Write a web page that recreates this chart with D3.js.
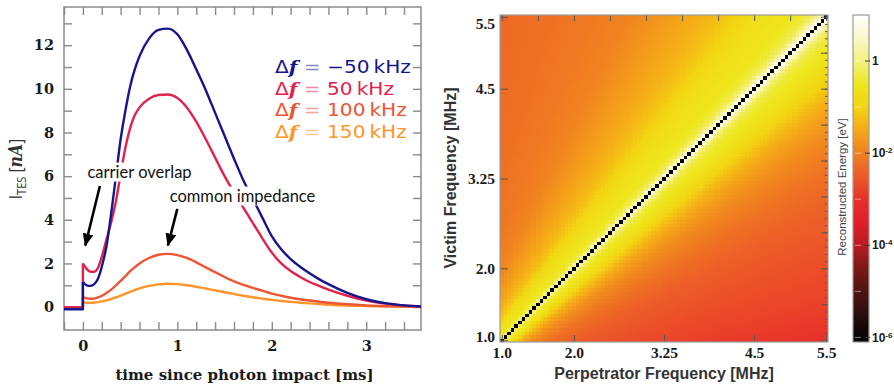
<!DOCTYPE html>
<html>
<head>
<meta charset="utf-8">
<title>TES pulses and crosstalk map</title>
<script src="https://cdn.jsdelivr.net/npm/d3@7/dist/d3.min.js"></script>
<style>
  body { margin: 0; background: #fff; }
  svg { display: block; }
</style>
</head>
<body>
<svg id="chart" width="894" height="386"></svg>
<script>
// ---- left panel: TES current pulses (nA) vs time (ms)
const timeMs = [0, 0.04, 0.08, 0.12, 0.16, 0.2, 0.25, 0.3, 0.35, 0.4, 0.45, 0.5, 0.55, 0.6,
  0.7, 0.8, 0.9, 1.0, 1.1, 1.2, 1.3, 1.4, 1.5, 1.6, 1.7, 1.8, 1.9, 2.0, 2.1, 2.2, 2.3, 2.4,
  2.5, 2.6, 2.8, 3.0, 3.2, 3.4, 3.58];
const pulseMinus50 = [1.15, 1.0, 0.97, 1.05, 1.3, 1.85, 2.8, 4.3, 6.0, 7.7, 9.0, 10.1, 10.9, 11.5,
  12.3, 12.7, 12.76, 12.5, 11.8, 10.9, 9.95, 8.9, 7.85, 6.8, 5.8, 4.95, 4.1, 3.25, 2.65, 2.2, 1.85, 1.55,
  1.28, 1.05, 0.65, 0.36, 0.18, 0.08, 0.03];
const pulse50 = [2.0, 1.75, 1.62, 1.62, 1.8, 2.3, 3.1, 3.9, 4.85, 6.1, 7.3, 8.2, 8.8, 9.15,
  9.55, 9.72, 9.74, 9.58, 9.15, 8.5, 7.7, 6.85, 6.0, 5.25, 4.55, 3.85, 3.15, 2.5, 2.0, 1.65, 1.38, 1.15,
  0.97, 0.8, 0.52, 0.3, 0.16, 0.07, 0.03];
const pulse100 = [0.46, 0.4, 0.38, 0.39, 0.44, 0.52, 0.65, 0.8, 1.0, 1.2, 1.42, 1.65, 1.83, 2.0,
  2.25, 2.4, 2.44, 2.38, 2.25, 2.05, 1.82, 1.6, 1.38, 1.18, 1.02, 0.88, 0.75, 0.62, 0.52, 0.43, 0.36, 0.3,
  0.25, 0.2, 0.13, 0.08, 0.05, 0.03, 0.02];
const pulse150 = [0.23, 0.2, 0.2, 0.21, 0.23, 0.26, 0.31, 0.37, 0.44, 0.52, 0.61, 0.7, 0.78, 0.86,
  0.97, 1.04, 1.07, 1.05, 1.0, 0.93, 0.85, 0.77, 0.68, 0.6, 0.52, 0.45, 0.39, 0.33, 0.28, 0.24, 0.2, 0.17,
  0.14, 0.11, 0.07, 0.05, 0.03, 0.02, 0.01];
const baselineLevels = [-0.1, 0, 0, 0];          // level before the photon arrives
const detuningLabels = ["\u221250", "50", "100", "150"];
const lineColors = ["#15158c", "#e0234c", "#ee5532", "#ff9529"];
const pulseTicksY = d3.range(0, 14);
const pulseTicksX = d3.range(-1, 18).map(i => i * 0.2);

// ---- right panel: reconstructed crosstalk energy, log10(eV)
const freqMHz = d3.range(0, 91).map(i => +(1 + i * 0.05).toFixed(2));
const freqTickValues = [1.0, 2.0, 3.25, 4.5, 5.5];
const freqTickText = ["1.0", "2.0", "3.25", "4.5", "5.5"];
// energy falls with the frequency ratio min/max, read along rows and columns
const ratioStops = [1.0, 0.99, 0.98, 0.97, 0.96, 0.94, 0.92, 0.9, 0.85, 0.8, 0.75, 0.7, 0.6, 0.5, 0.4, 0.3, 0.18];
const upperLogE = [1.0, 0.8, 0.3, 0.0, -0.2, -0.38, -0.48, -0.55, -0.65, -0.85, -1.15, -1.35, -1.65, -1.95, -2.1, -2.2, -2.3];
const lowerLogE = [1.0, 0.8, 0.3, 0.0, -0.2, -0.38, -0.48, -0.55, -0.9, -1.3, -1.6, -1.85, -2.2, -2.45, -2.6, -2.75, -3.0];
const diagonalLogE = -6.1;
const cbarLogStops = [-6.1, -5.5, -5.0, -4.5, -4.0, -3.5, -3.0, -2.5, -2.0, -1.5, -1.0, -0.5, 0.0, 0.5, 1.0];
const cbarColors = ["#000000", "#2a0e0e", "#4e1410", "#7e1818", "#b81c22", "#e01e28", "#e8302a",
  "#ec5a28", "#f08020", "#f5a818", "#f3d412", "#eee61c", "#f4f080", "#faf8c8", "#ffffff"];
const cbarLabelExp = [0, -2, -4, -6];

const svg = d3.select("#chart");
const tickGray = "#8a8a8a";
const isInt = d => Math.abs(d - Math.round(d)) < 1e-6;

// ================= left panel =================
const P = { left: 64, right: 421, top: 7, bottom: 330 };
const x = d3.scaleLinear().domain([-0.2, 3.58]).range([P.left, P.right]);
const y = d3.scaleLinear().domain([-1.05, 13.75]).range([P.bottom, P.top]);

const defs = svg.append("defs");
defs.append("clipPath").attr("id", "clipPulse").append("rect")
  .attr("x", P.left).attr("y", P.top)
  .attr("width", P.right - P.left).attr("height", P.bottom - P.top);

function grayTicks(g) {
  g.select(".domain").remove();
  g.selectAll(".tick line").attr("stroke", tickGray).attr("stroke-width", 1.4);
  g.selectAll(".tick text").attr("fill", "#1a1a1a");
}

svg.append("g").attr("transform", `translate(${P.left},0)`)
  .call(d3.axisLeft(y).tickValues(pulseTicksY).tickSize(-8).tickPadding(10)
    .tickFormat(d => d % 2 === 0 ? d : ""))
  .call(grayTicks)
  .attr("font-family", "DejaVu Serif").attr("font-weight", "bold").attr("font-size", 14.5);

svg.append("g").attr("transform", `translate(${P.right},0)`)
  .call(d3.axisRight(y).tickValues(pulseTicksY).tickSize(-8).tickFormat(""))
  .call(grayTicks);

svg.append("g").attr("transform", `translate(0,${P.bottom})`)
  .call(d3.axisBottom(x).tickValues(pulseTicksX).tickSize(-8).tickPadding(11)
    .tickFormat(d => isInt(d) ? Math.round(d) : ""))
  .call(grayTicks)
  .attr("font-family", "DejaVu Serif").attr("font-weight", "bold").attr("font-size", 14.5);

svg.append("g").attr("transform", `translate(0,${P.top})`)
  .call(d3.axisTop(x).tickValues(pulseTicksX).tickSize(-8).tickFormat(""))
  .call(grayTicks);

svg.append("rect")
  .attr("x", P.left).attr("y", P.top)
  .attr("width", P.right - P.left).attr("height", P.bottom - P.top)
  .attr("fill", "none").attr("stroke", tickGray).attr("stroke-width", 1.5);

const pulses = [pulseMinus50, pulse50, pulse100, pulse150];
const curve = d3.line().x(d => x(d[0])).y(d => y(d[1])).curve(d3.curveMonotoneX);
const step = d3.line().x(d => x(d[0])).y(d => y(d[1]));
const curves = svg.append("g").attr("clip-path", "url(#clipPulse)")
  .attr("fill", "none").attr("stroke-width", 2.4).attr("stroke-linejoin", "round");

// draw the smallest pulse first so the -50 kHz trace ends up on top
d3.range(pulses.length - 1, -1, -1).forEach(i => {
  const vals = pulses[i];
  curves.append("path")
    .attr("stroke", lineColors[i])
    .attr("d", step([[-0.2, baselineLevels[i]], [0, baselineLevels[i]], [0, vals[0]]]));
  curves.append("path")
    .attr("stroke", lineColors[i])
    .attr("d", curve(timeMs.map((t, k) => [t, vals[k]])));
});

// legend (the source figure is a little stretched sideways)
const legend = svg.append("g").attr("font-family", "DejaVu Sans").attr("font-size", 17.5);
detuningLabels.forEach((lab, i) => {
  const t = legend.append("text")
    .attr("transform", `translate(275,${73 + i * 21.7}) scale(1.15,1)`)
    .attr("fill", lineColors[i]);
  t.append("tspan").text("\u0394");
  t.append("tspan").attr("font-family", "DejaVu Serif").attr("font-style", "italic")
    .attr("font-weight", "bold").text("f");
  t.append("tspan").attr("fill-opacity", 0.55).text(" = ");
  t.append("tspan").text(lab + "\u2009kHz");
});

// annotations with arrows
defs.append("marker")
  .attr("id", "arrowHead").attr("markerUnits", "userSpaceOnUse")
  .attr("viewBox", "0 0 12 10").attr("refX", 11).attr("refY", 5)
  .attr("markerWidth", 13).attr("markerHeight", 11).attr("orient", "auto")
  .append("path").attr("d", "M0,0 L12,5 L0,10 Z").attr("fill", "#000");

const notes = [
  { text: "carrier overlap", tx: 0.6, ty: 6.2, from: [0.18, 5.55], to: [0.025, 2.82] },
  { text: "common impedance", tx: 1.69, ty: 5.1, from: [1.0, 4.5], to: [0.9, 2.82] }
];
notes.forEach(n => {
  const label = svg.append("text")
    .attr("x", x(n.tx)).attr("y", y(n.ty)).attr("dy", "0.35em")
    .attr("text-anchor", "middle")
    .attr("font-family", "Lato").attr("font-size", 16.5).attr("fill", "#111")
    .text(n.text);
  const bb = label.node().getBBox();
  svg.insert("rect", () => label.node())
    .attr("x", bb.x - 1).attr("y", bb.y + 1).attr("width", bb.width + 2).attr("height", bb.height - 1)
    .attr("fill", "#fff");
  svg.append("line")
    .attr("x1", x(n.from[0])).attr("y1", y(n.from[1]))
    .attr("x2", x(n.to[0])).attr("y2", y(n.to[1]))
    .attr("stroke", "#000").attr("stroke-width", 2.6)
    .attr("marker-end", "url(#arrowHead)");
});

// axis titles
svg.append("text")
  .attr("x", (P.left + P.right) / 2 + 2).attr("y", 380)
  .attr("text-anchor", "middle")
  .attr("font-family", "DejaVu Serif").attr("font-weight", "bold").attr("font-size", 15)
  .attr("fill", "#1a1a1a")
  .text("time since photon impact [ms]");

const yTitle = svg.append("text")
  .attr("transform", "translate(22,169) rotate(-90) scale(0.85,1)")
  .attr("text-anchor", "middle")
  .attr("font-family", "Open Sans").attr("font-size", 18.5).attr("fill", "#333");
yTitle.append("tspan").text("I");
yTitle.append("tspan").attr("font-size", 13).attr("dy", 4).text("TES");
yTitle.append("tspan").attr("dy", -4).text(" [");
yTitle.append("tspan").attr("font-family", "DejaVu Serif").attr("font-style", "italic")
  .attr("font-weight", "bold").text("nA");
yTitle.append("tspan").text("]");

// ================= right panel =================
const H = { left: 500, right: 828, top: 15, bottom: 342 };
const half = 0.025;
const fx = d3.scaleLinear().domain([1 - half, 5.5 + half]).range([H.left, H.right]);
const fy = d3.scaleLinear().domain([1 - half, 5.5 + half]).range([H.bottom, H.top]);
const color = d3.scaleLinear().domain(cbarLogStops).range(cbarColors).clamp(true);
const upperE = d3.scaleLinear().domain(ratioStops).range(upperLogE).clamp(true);
const lowerE = d3.scaleLinear().domain(ratioStops).range(lowerLogE).clamp(true);

function logEnergy(fp, fv) {
  if (Math.abs(fp - fv) < 1e-9) return diagonalLogE;
  return fv > fp ? upperE(fp / fv) : lowerE(fv / fp);
}

const cells = d3.cross(freqMHz, freqMHz).map(([fp, fv]) => ({ fp, fv, e: logEnergy(fp, fv) }));
svg.append("g").attr("shape-rendering", "crispEdges")
  .selectAll("rect").data(cells).join("rect")
  .attr("x", d => fx(d.fp - half))
  .attr("y", d => fy(d.fv + half))
  .attr("width", d => fx(d.fp + half) - fx(d.fp - half) + 0.4)
  .attr("height", d => fy(d.fv - half) - fy(d.fv + half) + 0.4)
  .attr("fill", d => color(d.e));

const darkTick = "#555";
function darkTicks(g) {
  g.select(".domain").remove();
  g.selectAll(".tick line").attr("stroke", darkTick).attr("stroke-width", 1);
  g.selectAll(".tick text").attr("fill", "#1a1a1a");
}
const fmtFreq = d => freqTickText[freqTickValues.indexOf(d)];

svg.append("g").attr("transform", `translate(${H.left},0)`)
  .call(d3.axisLeft(fy).tickValues(freqTickValues).tickSize(-8).tickPadding(5).tickFormat(fmtFreq))
  .call(darkTicks)
  .attr("font-family", "Liberation Serif").attr("font-weight", "bold").attr("font-size", 15.5)
  .call(g => g.selectAll(".tick text")
    .attr("transform", d => d === 5.5 ? "translate(0,7)" : d === 1.0 ? "translate(0,-4)" : null));

svg.append("g").attr("transform", `translate(0,${H.bottom})`)
  .call(d3.axisBottom(fx).tickValues(freqTickValues).tickSize(-7).tickPadding(5).tickFormat(fmtFreq))
  .call(darkTicks)
  .attr("font-family", "Liberation Serif").attr("font-weight", "bold").attr("font-size", 15.5);

svg.append("g").attr("transform", `translate(0,${H.top})`)
  .call(d3.axisTop(fx).tickValues(d3.range(2, 12).map(i => i * 0.5)).tickSize(-6).tickFormat(""))
  .call(darkTicks);

svg.append("g").attr("transform", `translate(${H.right},0)`)
  .call(d3.axisRight(fy).tickValues(d3.range(10, 56).map(i => i / 10)).tickSize(-3).tickFormat(""))
  .call(darkTicks);
svg.append("g").attr("transform", `translate(${H.right},0)`)
  .call(d3.axisRight(fy).tickValues(d3.range(2, 12).map(i => i * 0.5)).tickSize(-7).tickFormat(""))
  .call(darkTicks);

svg.append("rect")
  .attr("x", H.left).attr("y", H.top)
  .attr("width", H.right - H.left).attr("height", H.bottom - H.top)
  .attr("fill", "none").attr("stroke", "#9a9a9a").attr("stroke-width", 1.2);

svg.append("text")
  .attr("x", (H.left + H.right) / 2).attr("y", 379)
  .attr("text-anchor", "middle")
  .attr("font-family", "Liberation Sans").attr("font-weight", "bold").attr("font-size", 16)
  .attr("fill", "#333")
  .text("Perpetrator Frequency [MHz]");

svg.append("text")
  .attr("transform", "translate(456,178) rotate(-90)")
  .attr("text-anchor", "middle")
  .attr("font-family", "Liberation Sans").attr("font-weight", "bold").attr("font-size", 16)
  .attr("fill", "#333")
  .text("Victim Frequency [MHz]");

// colour bar
const C = { left: 853, right: 869, top: 15, bottom: 342 };
const cy = d3.scaleLinear().domain([cbarLogStops[0], cbarLogStops[cbarLogStops.length - 1]])
  .range([C.bottom, C.top]);
const grad = defs.append("linearGradient")
  .attr("id", "cbarGrad").attr("x1", 0).attr("y1", 1).attr("x2", 0).attr("y2", 0);
cbarLogStops.forEach((v, i) => {
  grad.append("stop")
    .attr("offset", (C.bottom - cy(v)) / (C.bottom - C.top))
    .attr("stop-color", cbarColors[i]);
});
svg.append("rect")
  .attr("x", C.left).attr("y", C.top)
  .attr("width", C.right - C.left).attr("height", C.bottom - C.top)
  .attr("fill", "url(#cbarGrad)").attr("stroke", "#9a9a9a").attr("stroke-width", 1.2);

svg.append("g").selectAll("line").data(d3.range(-6, 1)).join("line")
  .attr("x1", C.left + 2).attr("x2", C.left + 8)
  .attr("y1", d => cy(d)).attr("y2", d => cy(d))
  .attr("stroke", "#fff").attr("stroke-opacity", 0.5).attr("stroke-width", 1);

const cbTicks = svg.append("g").selectAll("g").data(cbarLabelExp).join("g")
  .attr("transform", d => `translate(0,${cy(d)})`);
cbTicks.append("line")
  .attr("x1", C.right - 4).attr("x2", C.right + 1)
  .attr("stroke", "#333").attr("stroke-width", 1);
const cbText = cbTicks.append("text")
  .attr("x", C.right + 3).attr("dy", "0.35em")
  .attr("font-family", "Liberation Sans").attr("font-weight", "bold").attr("font-size", 12)
  .attr("fill", "#1a1a1a");
cbText.filter(d => d === 0).text("1");
cbText.filter(d => d !== 0).each(function (d) {
  const t = d3.select(this);
  t.append("tspan").text("10");
  t.append("tspan").attr("font-size", 8).attr("dy", -4).text(d);
});

svg.append("text")
  .attr("transform", "translate(846,187) rotate(-90)")
  .attr("text-anchor", "middle")
  .attr("font-family", "Liberation Sans").attr("font-size", 11.5)
  .attr("fill", "#444")
  .text("Reconstructed Energy [eV]");
</script>
</body>
</html>
